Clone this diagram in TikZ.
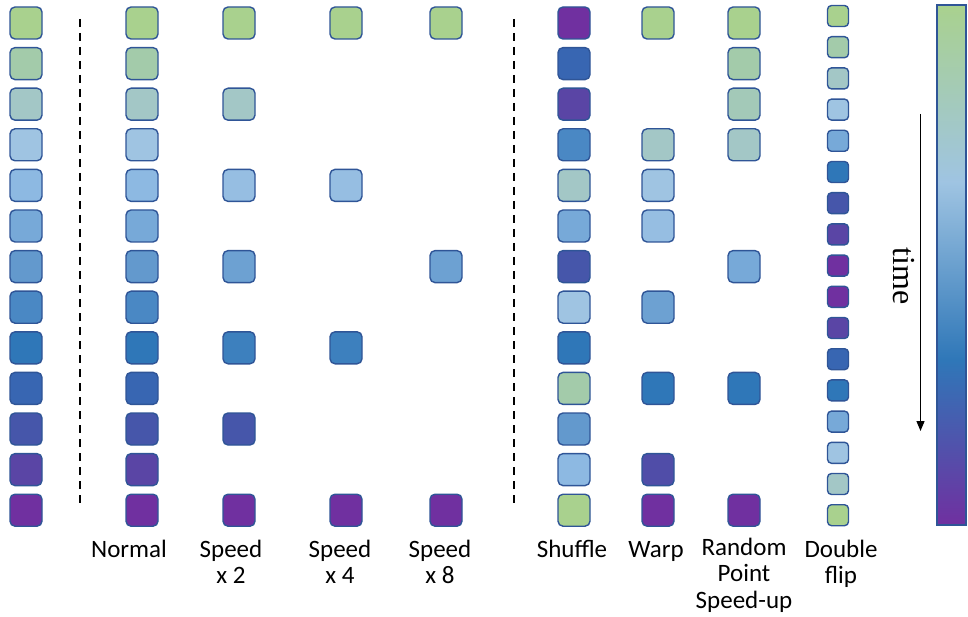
\documentclass[tikz,border=0pt]{standalone}
\usepackage{fontspec}
\setmainfont{Carlito}
\newfontfamily\timefont{Liberation Serif}
\usetikzlibrary{arrows.meta}

% colour ramp from green (early) to purple (late)
\definecolor{c0}{HTML}{A9D18E}
\definecolor{c1}{HTML}{A3CBAA}
\definecolor{c2}{HTML}{A3C7C6}
\definecolor{c3}{HTML}{9FC4E2}
\definecolor{c4}{HTML}{8DB9E2}
\definecolor{c5}{HTML}{77A9D8}
\definecolor{c6}{HTML}{6399CD}
\definecolor{c7}{HTML}{4A88C4}
\definecolor{c8}{HTML}{2F77B8}
\definecolor{c9}{HTML}{3866B2}
\definecolor{c10}{HTML}{4656AA}
\definecolor{c11}{HTML}{5A45A5}
\definecolor{c12}{HTML}{7030A0}
% in-between shades
\colorlet{c1h}{c1!50!c2}
\colorlet{c3h}{c3!50!c4}
\colorlet{c5h}{c5!50!c6}
\colorlet{c7h}{c7!50!c8}
\colorlet{c10h}{c10!50!c11}
\definecolor{edge}{HTML}{2F5597}

\tikzset{
  frame/.style={draw=edge, line width=1.4pt, rounded corners=5pt,
    minimum size=32pt, inner sep=0pt},
  smallframe/.style={frame, minimum size=21pt, rounded corners=4pt},
  lab/.style={font=\fontsize{25}{26.5}\selectfont, align=center,
    anchor=base, inner sep=0pt},
  divider/.style={dashed, dash pattern=on 8pt off 6pt, line width=2pt},
}

\begin{document}
\begin{tikzpicture}[x=1pt,y=-1pt]
\useasboundingbox (0,0) rectangle (968,617);

% row position of frame r
\def\rowy#1{23+40.6*#1}

% original sequence and normal playback
\foreach \r in {0,...,12}{
  \node[frame, fill=c\r] (orig\r) at (26,{\rowy{\r}}) {};
  \node[frame, fill=c\r] (norm\r) at (142,{\rowy{\r}}) {};
}
% speed x2
\foreach \r/\c in {0/0,2/2,4/3h,6/5h,8/7h,10/10,12/12}
  \node[frame, fill=c\c] (sptwo\r) at (239,{\rowy{\r}}) {};
% speed x4
\foreach \r/\c in {0/0,4/3h,8/7h,12/12}
  \node[frame, fill=c\c] (spfour\r) at (346,{\rowy{\r}}) {};
% speed x8
\foreach \r/\c in {0/0,6/5h,12/12}
  \node[frame, fill=c\c] (speight\r) at (446,{\rowy{\r}}) {};
% shuffle
\foreach \c [count=\r from 0] in {12,9,11,7,2,5,10,3,8,1,6,4,0}
  \node[frame, fill=c\c] (shuf\r) at (574,{\rowy{\r}}) {};
% warp
\foreach \r/\c in {0/0,3/2,4/3,5/3h,7/5h,9/8,11/10h,12/12}
  \node[frame, fill=c\c] (warp\r) at (658,{\rowy{\r}}) {};
% random point speed-up
\foreach \r/\c in {0/0,1/1,2/1h,3/2,6/5,9/8,12/12}
  \node[frame, fill=c\c] (rpsu\r) at (744,{\rowy{\r}}) {};
% double flip
\foreach \c [count=\r from 0] in {0,1,2,3,5,8,10,11,12,12,11,9,8,5,3,2,0}
  \node[smallframe, fill=c\c] (dflip\r) at (838,{16+31.2*\r}) {};

% dividers
\coordinate (da) at (80,19);  \coordinate (db) at (80,507);
\coordinate (dc) at (514,19); \coordinate (dd) at (514,507);
\draw[divider] (da) -- (db);
\draw[divider] (dc) -- (dd);

% labels (anchored at the baseline of their last line)
\node[lab] (lnorm) at (129,557) {Normal};
\node[lab] (ltwo) at (231,583.5) {Speed\\x 2};
\node[lab] (lfour) at (340,583.5) {Speed\\x 4};
\node[lab] (leight) at (440,583.5) {Speed\\x 8};
\node[lab] (lshuf) at (572,557) {Shuffle};
\node[lab] (lwarp) at (656,557) {Warp};
\node[lab] (lrpsu) at (744,608) {Random\\Point\\Speed-up};
\node[lab] (ldflip) at (841,583.5) {Double\\flip};

% time arrow
\coordinate (ta) at (920.5,114);
\coordinate (tb) at (920.5,431);
\draw[line width=1.3pt, -{Triangle[length=10pt,width=8pt]}] (ta) -- (tb);
\node[rotate=-90, anchor=base, inner sep=0pt,
  font=\timefont\fontsize{32}{32}\selectfont] (ttime) at (893,276) {time};

% colour bar
\shade[top color=c0, middle color=c2, bottom color=c3] (937,5) rectangle (966,182);
\shade[top color=c3, middle color=c6, bottom color=c8] (937,182) rectangle (966,360);
\shade[top color=c8, middle color=c10, bottom color=c12] (937,360) rectangle (966,525);
\node[draw=edge, line width=1.4pt, inner sep=0pt, minimum width=29pt,
  minimum height=520pt] (bar) at (951.5,265) {};
\end{tikzpicture}
\end{document}
